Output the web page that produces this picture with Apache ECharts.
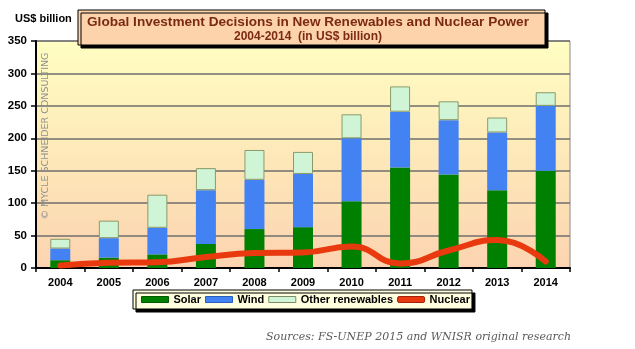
<!DOCTYPE html>
<html>
<head>
<meta charset="utf-8">
<script src="https://cdn.jsdelivr.net/npm/echarts@6/dist/echarts.min.js"></script>
<style>
  html, body { margin: 0; padding: 0; background: #ffffff; }
  #chart { width: 635px; height: 349px; }
</style>
</head>
<body>
<div id="chart"></div>
<script>
// Investment decisions per year, US$ billion
const years = ['2004', '2005', '2006', '2007', '2008', '2009', '2010', '2011', '2012', '2013', '2014'];
const solar = [12, 16, 21, 37, 60, 63, 103, 155, 144, 120, 150];
const wind = [18, 30, 41, 83, 76, 82, 97, 86, 84, 89, 100];
const otherRenewables = [15, 27, 51, 34, 46, 34, 37, 39, 29, 23, 21];
const nuclear = [4, 8, 9, 17, 23, 24, 33, 7, 27, 43, 10];

const titleLine1 = 'Global Investment Decisions in New Renewables and Nuclear Power';
const titleLine2 = '2004-2014  (in US$ billion)';
const unitLabel = 'US$ billion';
const sourceNote = 'Sources: FS-UNEP 2015 and WNISR original research';
const watermark = '\u00A9 MYCLE SCHNEIDER CONSULTING';

const chart = echarts.init(document.getElementById('chart'), null, { renderer: 'canvas' });

const boldFont = 'Liberation Sans, Arial, sans-serif';

chart.setOption({
  animation: false,
  backgroundColor: '#ffffff',
  grid: {
    left: 36, right: 65, top: 41, bottom: 81,
    show: true,
    borderColor: '#8a8a8a',
    borderWidth: 1,
    backgroundColor: new echarts.graphic.LinearGradient(0, 0, 0, 1, [
      { offset: 0, color: '#FFFEC2' },
      { offset: 1, color: '#FCD3B0' }
    ])
  },
  legend: {
    left: 133, top: 290,
    itemWidth: 27, itemHeight: 6,
    itemGap: 4,
    padding: [4, 2, 4, 8],
    backgroundColor: '#FFFFE0',
    borderColor: '#000000',
    borderWidth: 1,
    shadowColor: '#000000',
    shadowBlur: 0,
    shadowOffsetX: 3,
    shadowOffsetY: 3,
    textStyle: { fontFamily: boldFont, fontWeight: 'bold', fontSize: 11, color: '#000000' },
    data: [
      { name: 'Solar', icon: 'rect', itemStyle: { color: '#008000', borderColor: '#005a00', borderWidth: 1 } },
      { name: 'Wind', icon: 'rect', itemStyle: { color: '#4282F2', borderColor: '#2a5fc0', borderWidth: 1 } },
      { name: 'Other renewables', icon: 'rect', itemStyle: { color: '#CFF5D6', borderColor: '#7d8c66', borderWidth: 1 } },
      { name: 'Nuclear', icon: 'roundRect', itemStyle: { color: '#E83A0E', borderColor: '#a8200a', borderWidth: 1 } }
    ]
  },
  xAxis: {
    type: 'category',
    data: years,
    boundaryGap: true,
    axisLine: { show: true, lineStyle: { color: '#000000', width: 2 } },
    axisTick: { show: true, alignWithLabel: false, length: 4, lineStyle: { color: '#000000', width: 1.5 } },
    axisLabel: { color: '#000000', fontFamily: boldFont, fontWeight: 'bold', fontSize: 11, margin: 9 },
    splitLine: { show: false }
  },
  yAxis: {
    type: 'value',
    min: 0, max: 350, interval: 50,
    axisLine: { show: true, lineStyle: { color: '#000000', width: 2 } },
    axisTick: { show: true, length: 5, lineStyle: { color: '#000000', width: 1.5 } },
    axisLabel: { color: '#000000', fontFamily: boldFont, fontWeight: 'bold', fontSize: 11.5, margin: 9 },
    splitLine: { show: true, lineStyle: { color: '#6e6e6e', width: 1.5 } }
  },
  series: [
    {
      name: 'Solar', type: 'bar', stack: 'renew', barWidth: 20,
      itemStyle: { color: '#008000' },
      data: solar
    },
    {
      name: 'Wind', type: 'bar', stack: 'renew', barWidth: 20,
      itemStyle: { color: '#4282F2' },
      data: wind
    },
    {
      name: 'Other renewables', type: 'bar', stack: 'renew', barWidth: 20,
      itemStyle: { color: '#CFF5D6', borderColor: '#8a9a6a', borderWidth: 1 },
      data: otherRenewables
    },
    {
      name: 'Nuclear', type: 'line', smooth: true, symbol: 'none', z: 5,
      lineStyle: { color: '#E83A0E', width: 6, cap: 'round' },
      itemStyle: { color: '#E83A0E' },
      data: nuclear
    }
  ],
  graphic: [
    {
      type: 'text', left: 15, top: 13, z: 10,
      style: { text: unitLabel, fontFamily: boldFont, fontWeight: 'bold', fontSize: 11, fill: '#000000' }
    },
    {
      type: 'rect', z: 10,
      shape: { x: 78, y: 10, width: 467, height: 35 },
      style: {
        fill: '#FDD3AC', stroke: '#000000', lineWidth: 1,
        shadowColor: '#000000', shadowBlur: 0, shadowOffsetX: 3, shadowOffsetY: 3
      }
    },
    {
      type: 'text', z: 11, x: 308, y: 22,
      style: {
        text: titleLine1, fontFamily: boldFont, fontWeight: 'bold', fontSize: 13.6,
        fill: '#7B2A12', align: 'center', verticalAlign: 'middle'
      }
    },
    {
      type: 'text', z: 11, x: 308, y: 37,
      style: {
        text: titleLine2, fontFamily: boldFont, fontWeight: 'bold', fontSize: 12,
        fill: '#7B2A12', align: 'center', verticalAlign: 'middle'
      }
    },
    {
      type: 'text', z: 3, x: 46, y: 136, rotation: Math.PI / 2,
      style: {
        text: watermark, fontFamily: 'DejaVu Sans, sans-serif', fontSize: 9.5,
        fill: '#8f8f8f', align: 'center', verticalAlign: 'middle'
      }
    },
    {
      type: 'text', z: 10, x: 571, y: 337,
      style: {
        text: sourceNote, fontFamily: 'DejaVu Serif, serif', fontStyle: 'italic', fontSize: 11,
        fill: '#5a5a5a', align: 'right', verticalAlign: 'middle'
      }
    }
  ]
});
</script>
</body>
</html>
